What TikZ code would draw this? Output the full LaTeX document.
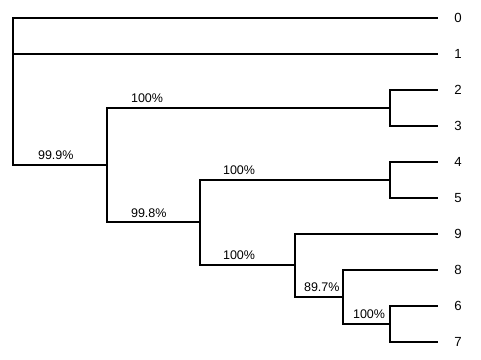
\documentclass[tikz,border=0pt]{standalone}
\usepackage{fontspec}
\setmainfont{Liberation Sans}
\usepackage{tikz}
\usetikzlibrary{positioning}
\tikzset{
  branch/.style={line width=1.5pt, color=black},
  leaf/.style={font=\fontsize{9.4}{11}\selectfont, inner sep=3pt},
  pct/.style={font=\fontsize{8.9}{10}\selectfont, anchor=south west,
    inner xsep=0pt, inner ysep=3pt}
}

\begin{document}
\begin{tikzpicture}
  \useasboundingbox (0,0) rectangle (12.025,9);

  % Leaf tips
  \coordinate (t0) at (10.95,8.56);
  \coordinate (t1) at (10.95,7.66);
  \coordinate (t2) at (10.95,6.76);
  \coordinate (t3) at (10.95,5.86);
  \coordinate (t4) at (10.95,4.96);
  \coordinate (t5) at (10.95,4.06);
  \coordinate (t9) at (10.95,3.16);
  \coordinate (t8) at (10.95,2.26);
  \coordinate (t6) at (10.95,1.36);
  \coordinate (t7) at (10.95,0.46);

  % Internal nodes
  \coordinate (root) at (0.325,6.72);
  \coordinate (nA) at (2.675,4.875);
  \coordinate (n23) at (9.75,6.31);
  \coordinate (nB) at (5.0,3.44);
  \coordinate (n45) at (9.75,4.51);
  \coordinate (n9) at (7.375,2.37);
  \coordinate (n8) at (8.575,1.585);
  \coordinate (n67) at (9.75,0.91);

  % Leaf labels
  \node[leaf, right=0.3cm of t0] (l0) {0};
  \node[leaf, right=0.3cm of t1] (l1) {1};
  \node[leaf, right=0.3cm of t2] (l2) {2};
  \node[leaf, right=0.3cm of t3] (l3) {3};
  \node[leaf, right=0.3cm of t4] (l4) {4};
  \node[leaf, right=0.3cm of t5] (l5) {5};
  \node[leaf, right=0.3cm of t9] (l9) {9};
  \node[leaf, right=0.3cm of t8] (l8) {8};
  \node[leaf, right=0.3cm of t6] (l6) {6};
  \node[leaf, right=0.3cm of t7] (l7) {7};

  % Root
  \draw[branch] (root) |- (t0);
  \draw[branch] (root) |- (t1);
  \draw[branch] (root) |- (nA) node[pct, pos=0.5, xshift=0.6cm] (sA) {99.9\%};

  % Clade 2-3
  \draw[branch] (nA) |- (n23) node[pct, pos=0.5, xshift=0.575cm] (s23) {100\%};
  \draw[branch] (n23) |- (t2);
  \draw[branch] (n23) |- (t3);

  % Lower clade
  \draw[branch] (nA) |- (nB) node[pct, pos=0.5, xshift=0.575cm] (sB) {99.8\%};
  \draw[branch] (nB) |- (n45) node[pct, pos=0.5, xshift=0.55cm] (s45) {100\%};
  \draw[branch] (n45) |- (t4);
  \draw[branch] (n45) |- (t5);
  \draw[branch] (nB) |- (n9) node[pct, pos=0.5, xshift=0.55cm] (s9) {100\%};
  \draw[branch] (n9) |- (t9);
  \draw[branch] (n9) |- (n8) node[pct, pos=0.5, xshift=0.2cm] (s8) {89.7\%};
  \draw[branch] (n8) |- (t8);
  \draw[branch] (n8) |- (n67) node[pct, pos=0.5, xshift=0.225cm] (s67) {100\%};
  \draw[branch] (n67) |- (t6);
  \draw[branch] (n67) |- (t7);
\end{tikzpicture}
\end{document}
